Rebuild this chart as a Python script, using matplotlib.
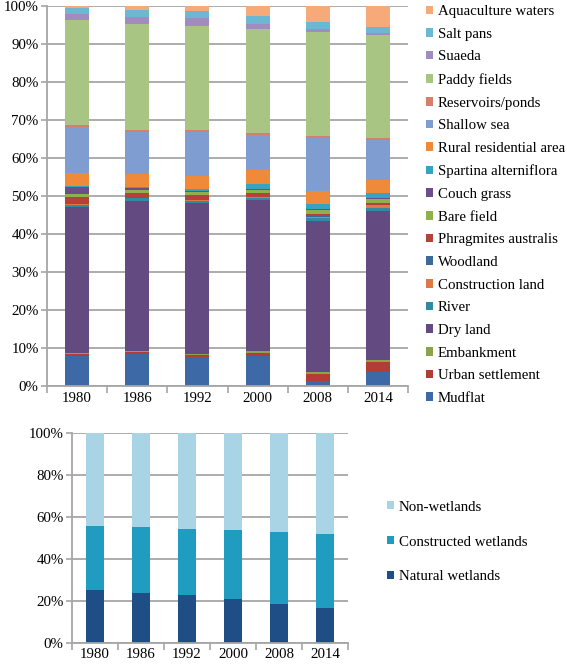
import numpy as np
import matplotlib
matplotlib.use("Agg")
from matplotlib import pyplot as plt
from matplotlib.ticker import FuncFormatter, MultipleLocator, FixedLocator

plt.rcParams["font.family"] = ["Liberation Serif", "DejaVu Serif"]
plt.rcParams["font.size"] = 10.7

years = ["1980", "1986", "1992", "2000", "2008", "2014"]

# land-use shares (%), bottom of the stack first
land_types = [
    "Mudflat", "Urban settlement", "Embankment", "Dry land", "River",
    "Construction land", "Woodland", "Phragmites australis", "Bare field",
    "Couch grass", "Spartina alterniflora", "Rural residential area",
    "Shallow sea", "Reservoirs/ponds", "Paddy fields", "Suaeda", "Salt pans",
    "Aquaculture waters",
]
mudflat = [7.8, 8.4, 7.5, 8.0, 1.4, 3.6]
urban = [0.5, 0.6, 0.7, 0.8, 1.8, 2.8]
embankment = [0.3, 0.3, 0.2, 0.3, 0.4, 0.4]
dry_land = [38.4, 39.4, 39.7, 39.8, 39.9, 39.1]
river = [0.5, 0.6, 0.6, 0.5, 0.6, 0.9]
construction = [0.3, 0.2, 0.2, 0.2, 0.3, 0.7]
woodland = [0.2, 0.1, 0.1, 0.1, 0.2, 0.2]
phragmites = [1.6, 1.1, 1.2, 1.0, 0.7, 0.5]
bare_field = [1.0, 0.9, 0.9, 0.8, 0.9, 1.0]
couch_grass = [1.6, 0.5, 0.3, 0.4, 0.3, 0.3]
spartina = [0.5, 0.3, 0.5, 1.3, 1.4, 1.2]
rural = [3.3, 3.4, 3.5, 3.5, 3.4, 3.5]
shallow_sea = [12.2, 11.1, 11.4, 9.3, 14.0, 10.5]
reservoirs = [0.4, 0.5, 0.5, 0.5, 0.5, 0.4]
paddy = [27.7, 27.9, 27.4, 27.4, 27.3, 27.1]
suaeda = [1.6, 1.7, 2.2, 1.4, 0.8, 0.6]
salt_pans = [1.6, 1.8, 1.7, 1.9, 1.8, 1.6]
aquaculture = [0.5, 1.2, 1.5, 2.8, 4.3, 5.6]

land_values = [
    mudflat, urban, embankment, dry_land, river, construction, woodland,
    phragmites, bare_field, couch_grass, spartina, rural, shallow_sea,
    reservoirs, paddy, suaeda, salt_pans, aquaculture,
]
land_colors = [
    "#3d69a6", "#b53b37", "#8aa34c", "#634a80", "#2f8ba4", "#dc7a45",
    "#3b6a98", "#b8403b", "#8fb14b", "#6b4e89", "#37a3c1", "#ef8a3a",
    "#7f9dd0", "#d5806c", "#a9c583", "#a08cbe", "#6cb8d2", "#f6aa7a",
]

# wetland shares (%)
wet_types = ["Natural wetlands", "Constructed wetlands", "Non-wetlands"]
natural = [25.2, 23.6, 22.8, 20.9, 18.3, 16.7]
constructed = [30.5, 31.5, 31.5, 33.1, 34.4, 35.2]
non_wet = [44.3, 44.9, 45.7, 46.0, 47.3, 48.1]
wet_values = [natural, constructed, non_wet]
wet_colors = ["#1f4d86", "#1f9cc0", "#a9d4e6"]

grid_color = "#a6a6a6"


def style_axes(ax, step):
    ax.set_xlim(-0.5, len(years) - 0.5)
    ax.set_ylim(0, 100)
    ax.yaxis.set_major_locator(MultipleLocator(step))
    ax.yaxis.set_major_formatter(FuncFormatter(lambda v, p: f"{v:.0f}%"))
    ax.yaxis.grid(True, color=grid_color, linewidth=1.3)
    ax.set_axisbelow(True)
    ax.set_xticks(np.arange(len(years)))
    ax.set_xticklabels(years)
    ax.xaxis.set_minor_locator(FixedLocator(np.arange(len(years) + 1) - 0.5))
    ax.tick_params(axis="x", which="major", length=0, pad=4)
    ax.tick_params(axis="x", which="minor", length=5, color=grid_color, width=1.2)
    ax.tick_params(axis="y", length=4, color=grid_color, width=1.2, pad=2)
    for side in ["top", "right"]:
        ax.spines[side].set_visible(False)
    for side in ["left", "bottom"]:
        ax.spines[side].set_color(grid_color)
        ax.spines[side].set_linewidth(1.3)


def stacked(ax, values, colors, labels, width):
    x = np.arange(len(years))
    arr = np.array(values, dtype=float)
    arr = arr / arr.sum(axis=0) * 100
    bottom = np.zeros(len(years))
    handles = []
    for row, color, label in zip(arr, colors, labels):
        h = ax.bar(x, row, width, bottom=bottom, color=color, label=label)
        handles.append(h)
        bottom += row
    return handles


fig = plt.figure(figsize=(5.67, 6.67), dpi=100)

ax1 = fig.add_axes([0.0829, 0.4213, 0.6367, 0.5702])
h1 = stacked(ax1, land_values, land_colors, land_types, 0.4)
style_axes(ax1, 10)
fig.legend(h1[::-1], land_types[::-1], loc="center left",
           bbox_to_anchor=(0.751, 0.6926), frameon=False, borderpad=0,
           borderaxespad=0, handlelength=0.5, handleheight=0.5,
           handletextpad=0.3, labelspacing=0.65)

ax2 = fig.add_axes([0.127, 0.0364, 0.4868, 0.314])
h2 = stacked(ax2, wet_values, wet_colors, wet_types, 0.41)
style_axes(ax2, 20)
fig.legend(h2[::-1], wet_types[::-1], loc="center left",
           bbox_to_anchor=(0.682, 0.1874), frameon=False, borderpad=0,
           borderaxespad=0, handlelength=0.5, handleheight=0.5,
           handletextpad=0.3, labelspacing=1.48)

fig.savefig("out.png", dpi=100)
